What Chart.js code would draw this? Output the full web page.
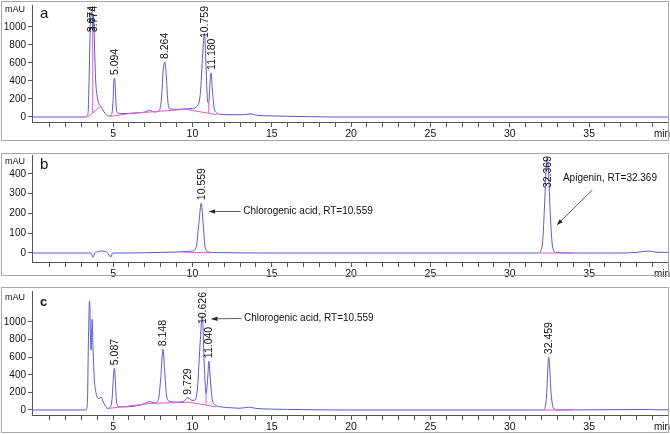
<!DOCTYPE html>
<html><head><meta charset="utf-8">
<script src="https://cdn.jsdelivr.net/npm/chart.js@4"></script>
<style>
body{margin:0;width:670px;height:434px;position:relative;background:#fff;overflow:hidden;font-family:"Liberation Sans",Arial,sans-serif}
canvas{position:absolute;left:0}
.frame{position:absolute;border:1px solid #a8a8a8;box-sizing:border-box;pointer-events:none}
</style></head>
<body>
<canvas id="ca" width="670" height="145" style="top:0px"></canvas>
<canvas id="cb" width="670" height="140" style="top:145px"></canvas>
<canvas id="cc" width="670" height="149" style="top:285px"></canvas>
<div class="frame" style="left:1px;top:1px;width:668px;height:140px"></div>
<div class="frame" style="left:1px;top:153px;width:668px;height:123px"></div>
<div class="frame" style="left:1px;top:287px;width:668px;height:146px"></div>
<script>
// ---------- data ----------
const xTickValues = [1,2,3,4,5,6,7,8,9,10,11,12,13,14,15,16,17,18,19,20,21,22,23,24,25,26,27,28,29,30,31,32,33,34,35,36,37,38,39];
const xLabelValues = [5,10,15,20,25,30,35];

// panel a
const aTime   = [-0.2,3.3,3.42,3.5,3.57,3.63,3.674,3.72,3.774,3.83,3.9,4.0,4.1,4.22,4.35,4.5,4.65,4.78,4.92,5.0,5.05,5.094,5.14,5.2,5.3,5.6,6.0,6.5,7.0,7.3,7.6,7.9,8.05,8.17,8.264,8.35,8.45,8.6,9.0,9.5,10.0,10.3,10.5,10.65,10.759,10.86,10.95,11.03,11.1,11.18,11.26,11.36,11.5,11.8,12.5,13.2,13.7,14.0,15.0,16.0,17.5,19.0,40.2];
const aSignal = [0,0,30,500,1050,1150,1165,960,1130,800,420,230,150,125,80,40,15,12,30,180,390,432,330,110,45,38,40,45,55,75,55,70,200,540,611,470,180,90,85,90,95,120,260,700,930,560,190,150,360,490,300,110,50,30,25,25,35,20,12,8,3,0,0];
const aBaseTime   = [3.42,4.22,null,3.72,3.72,null,4.8,6.1,9.6,11.55,null,11.03,11.03];
const aBaseSignal = [0,120,null,45,950,null,5,40,85,25,null,45,150];
const aPeaks = [3.674,3.774,5.094,8.264,10.759,11.180];
const aYTicks = [0,200,400,600,800,1000];

// panel b
const bTime   = [-0.2,3.6,3.74,3.85,4.05,4.25,4.6,4.87,4.97,6.0,8.0,9.0,9.5,10.0,10.25,10.42,10.559,10.68,10.8,11.0,11.5,15.0,31.8,32.05,32.2,32.3,32.369,32.44,32.55,32.7,32.9,34.0,37.0,38.0,38.8,39.2,40.2];
const bSignal = [0,0,-22,0,6,10,4,-20,0,0,3,5,7,10,35,160,252,150,30,5,2,0,0,40,260,450,482,420,200,30,3,0,0,3,10,4,3];
const bBaseTime   = [9.4,11.2,null,31.9,34.0];
const bBaseSignal = [4,1,null,0,0];
const bPeaks = [10.559,32.369];
const bYTicks = [0,100,200,300,400];

// panel c
const cTime   = [-0.2,3.28,3.38,3.45,3.52,3.58,3.62,3.68,3.74,3.82,3.92,4.02,4.12,4.25,4.36,4.5,4.65,4.8,4.95,5.03,5.087,5.15,5.22,5.35,5.7,6.2,6.7,7.0,7.3,7.6,7.85,8.0,8.148,8.25,8.38,8.55,9.0,9.4,9.729,9.95,10.15,10.32,10.5,10.626,10.75,10.86,10.96,11.04,11.13,11.25,11.45,11.8,12.5,13.0,13.6,14.0,15.0,17.0,19.0,32.15,32.3,32.459,32.6,32.75,33.0,38.8,39.2,40.2];
const cSignal = [0,0,60,800,1240,820,680,1030,700,350,200,140,130,150,100,50,20,25,150,400,475,320,90,40,35,40,55,75,95,80,110,350,690,450,150,100,90,95,140,110,110,250,800,1070,500,180,350,555,350,120,55,35,25,20,32,18,10,4,0,0,120,600,200,20,0,6,2,2];
const cBaseTime   = [4.6,7.4,9.8,11.5,null,10.86,10.86,null,32.1,34.0];
const cBaseSignal = [15,75,88,35,null,60,180,null,0,0];
const cPeaks = [5.087,8.148,9.729,10.626,11.040,32.459];
const cYTicks = [0,200,400,600,800,1000];

// annotations (data coordinates)
const bNotes = [
  {text:'Chlorogenic acid, RT=10.559', tx:13.2, ty:210, from:[13.05,210], to:[11.05,210]},
  {text:'Apigenin, RT=32.369', tx:33.35, ty:380, from:[35.2,319], to:[32.97,142]}
];
const cNotes = [
  {text:'Chlorogenic acid, RT=10.559', tx:13.25, ty:1045, from:[13.1,1040], to:[11.2,1035]}
];

// ---------- drawing ----------
const FONT = '"Liberation Sans", Arial, sans-serif';
const BLUE = 'rgb(88,88,218)';
const PINK = 'rgb(228,90,205)';

const textPlugin = {
  id: 'txt',
  afterDraw(chart) {
    const o = chart.options.plugins.txt;
    const {ctx, chartArea} = chart;
    const x = chart.scales.x, y = chart.scales.y;
    ctx.save();
    ctx.fillStyle = '#111';
    // peak labels
    ctx.font = '10.5px ' + FONT;
    o.peaks.forEach(t => {
      const v = o.signal[o.time.indexOf(t)];
      const px = x.getPixelForValue(t), py = y.getPixelForValue(v);
      const label = t.toFixed(3);
      const w = ctx.measureText(label).width;
      let bottom = py - 3;
      if (bottom - w < chartArea.top + 1) bottom = chartArea.top + 1 + w;
      ctx.save();
      ctx.translate(px + 0.5, bottom);
      ctx.rotate(-Math.PI / 2);
      ctx.textAlign = 'left';
      ctx.textBaseline = 'middle';
      ctx.fillText(label, 0, 0);
      ctx.restore();
    });
    // annotations
    ctx.font = '10px ' + FONT;
    ctx.textAlign = 'left';
    ctx.textBaseline = 'middle';
    o.notes.forEach(n => {
      ctx.fillStyle = '#111';
      ctx.fillText(n.text, x.getPixelForValue(n.tx), y.getPixelForValue(n.ty));
      const x1 = x.getPixelForValue(n.from[0]), y1 = y.getPixelForValue(n.from[1]);
      const x2 = x.getPixelForValue(n.to[0]), y2 = y.getPixelForValue(n.to[1]);
      ctx.strokeStyle = '#333'; ctx.lineWidth = 0.8;
      ctx.beginPath(); ctx.moveTo(x1, y1); ctx.lineTo(x2, y2); ctx.stroke();
      const a = Math.atan2(y2 - y1, x2 - x1), L = 6, W = 2.2;
      ctx.fillStyle = '#222';
      ctx.beginPath();
      ctx.moveTo(x2, y2);
      ctx.lineTo(x2 - L*Math.cos(a) + W*Math.sin(a), y2 - L*Math.sin(a) - W*Math.cos(a));
      ctx.lineTo(x2 - L*Math.cos(a) - W*Math.sin(a), y2 - L*Math.sin(a) + W*Math.cos(a));
      ctx.closePath(); ctx.fill();
    });
    // panel letter, unit labels
    ctx.fillStyle = '#111';
    ctx.font = o.letterFont + ' ' + FONT;
    ctx.textAlign = 'left'; ctx.textBaseline = 'middle';
    ctx.fillText(o.letter, o.letterX, o.letterY);
    ctx.font = '9px ' + FONT;
    ctx.textAlign = 'right';
    ctx.fillText('mAU', 25, o.unitY);
    ctx.font = '10px ' + FONT;
    ctx.textAlign = 'right';
    ctx.fillText('min', 670, chartArea.bottom + 12);
    ctx.restore();
  }
};

function pts(T, V) {
  return T.map((t, i) => ({x: t === null ? T[i-1] : t, y: V[i]}));
}

function makeChart(id, cfg) {
  const H = document.getElementById(id).height;
  return new Chart(document.getElementById(id), {
    type: 'line',
    data: {
      datasets: [
        {data: pts(cfg.time, cfg.signal), borderColor: BLUE, borderWidth: 1, pointRadius: 0,
         cubicInterpolationMode: 'monotone', order: 2},
        {data: pts(cfg.baseTime, cfg.baseSignal), borderColor: PINK, borderWidth: 1, pointRadius: 0,
         tension: 0, spanGaps: false, order: 1}
      ]
    },
    options: {
      responsive: false, animation: false, devicePixelRatio: 1,
      events: [],
      layout: {padding: {top: cfg.top, right: 2, left: 0, bottom: 0}},
      plugins: {
        legend: {display: false}, tooltip: {enabled: false},
        txt: {peaks: cfg.peaks, time: cfg.time, signal: cfg.signal, notes: cfg.notes,
              letter: cfg.letter, letterX: 40, letterY: cfg.letterY, letterFont: cfg.letterFont, unitY: cfg.unitY}
      },
      scales: {
        x: {
          type: 'linear', min: -0.107, max: 39.97,
          afterBuildTicks: s => { s.ticks = xTickValues.map(v => ({value: v})); },
          afterFit: s => { s.height = H - cfg.bottom; s.paddingLeft = 0; s.paddingRight = 0; },
          ticks: {autoSkip: false, maxRotation: 0, padding: 1, color: '#111',
                  font: {size: 10.5, family: FONT},
                  callback: v => xLabelValues.includes(v) ? String(v) : ''},
          grid: {display: true, drawOnChartArea: false, drawTicks: true, tickLength: 5, tickColor: '#555'},
          border: {display: true, color: '#555', width: 1}
        },
        y: {
          type: 'linear', min: cfg.ymin, max: cfg.ymax,
          afterBuildTicks: s => { s.ticks = cfg.yTicks.map(v => ({value: v})); },
          afterFit: s => { s.width = 32; s.paddingTop = 0; s.paddingBottom = 0; },
          ticks: {autoSkip: false, padding: 2, color: '#111', font: {size: 10, family: FONT},
                  callback: v => String(v)},
          grid: {display: true, drawOnChartArea: false, drawTicks: true, tickLength: 4, tickColor: '#555'},
          border: {display: true, color: '#555', width: 1}
        }
      }
    },
    plugins: [textPlugin]
  });
}

makeChart('ca', {time: aTime, signal: aSignal, baseTime: aBaseTime, baseSignal: aBaseSignal,
  peaks: aPeaks, notes: [], yTicks: aYTicks, ymin: -55.6, ymax: 1244, top: 5, bottom: 122,
  letter: 'a', letterY: 14, letterFont: '15px', unitY: 10});
makeChart('cb', {time: bTime, signal: bSignal, baseTime: bBaseTime, baseSignal: bBaseSignal,
  peaks: bPeaks, notes: bNotes, yTicks: bYTicks, ymin: -45.6, ymax: 496, top: 10, bottom: 117,
  letter: 'b', letterY: 20, letterFont: '15px', unitY: 17});
makeChart('cc', {time: cTime, signal: cSignal, baseTime: cBaseTime, baseSignal: cBaseSignal,
  peaks: cPeaks, notes: cNotes, yTicks: cYTicks, ymin: -57, ymax: 1352, top: 6, bottom: 130,
  letter: 'c', letterY: 17, letterFont: 'bold 13px', unitY: 13});
</script>
</body></html>
